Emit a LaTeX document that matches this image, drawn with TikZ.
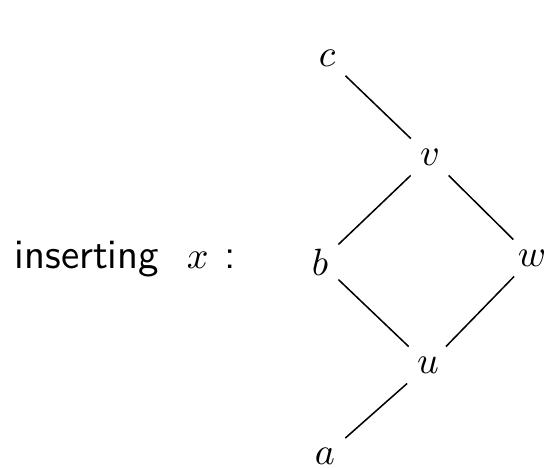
\documentclass[tikz,border=0pt]{standalone}
\begin{document}
\begin{tikzpicture}[x=0.2632pt,y=-0.2632pt,
  vert/.style={inner sep=2.5pt},
  edge/.style={line width=0.4pt},
  lblword/.style={inner sep=0pt,font=\sffamily\fontsize{11}{13}\selectfont}]
\useasboundingbox (0,0) rectangle (547,468);
\node[vert] (c) at (327,58) {$c$};
\node[vert] (v) at (430,157) {$v$};
\node[vert] (b) at (320,262) {$b$};
\node[vert] (w) at (532,258) {$w$};
\node[vert] (u) at (428,365) {$u$};
\node[vert] (a) at (325,456) {$a$};
\node[lblword,anchor=base west] (ins) at (14,268) {inserting};
\node[inner sep=0pt,anchor=base west] (xx) at (186,268) {$x$};
\node[lblword,anchor=base west] (col) at (224,268) {:};
\draw[edge] (c) -- (v);
\draw[edge] (v) -- (b);
\draw[edge] (v) -- (w);
\draw[edge] (b) -- (u);
\draw[edge] (w) -- (u);
\draw[edge] (u) -- (a);
\end{tikzpicture}
\end{document}
